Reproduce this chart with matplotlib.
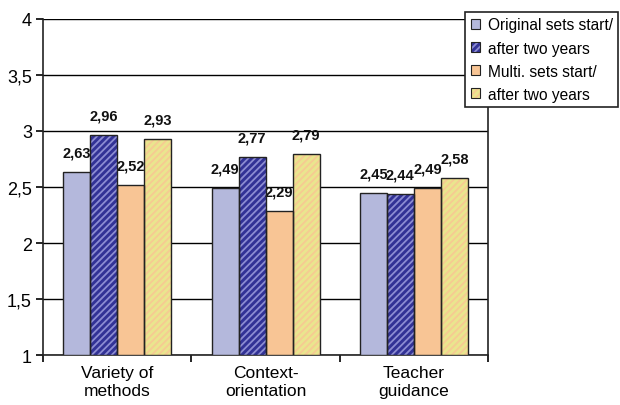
import numpy as np
import matplotlib
matplotlib.use('Agg')
import matplotlib.pyplot as plt
from matplotlib.patches import Patch

plt.rcParams['font.family'] = ['Liberation Sans', 'DejaVu Sans']
plt.rcParams['hatch.linewidth'] = 1.3

categories = ['Variety of\nmethods', 'Context-\norientation', 'Teacher\nguidance']
series_names = ['Original sets start/', 'after two years',
                'Multi. sets start/', 'after two years']
orig_start = [2.63, 2.49, 2.45]
orig_after = [2.96, 2.77, 2.44]
multi_start = [2.52, 2.29, 2.49]
multi_after = [2.93, 2.79, 2.58]

series = [orig_start, orig_after, multi_start, multi_after]
faces = ['#B4B8DC', '#323296', '#F8C595', '#EAE58E']
stripes = [None, '#8C8CD2', None, '#F6CB92']

fig = plt.figure(figsize=(6.2, 4.06), dpi=100)
ax = fig.add_axes([0.0694, 0.123, 0.7177, 0.828])

x = np.arange(len(categories))
w = 0.182
handles = []
for i, vals in enumerate(series):
    pos = x + (i - 1.5) * w
    if stripes[i]:
        ax.bar(pos, [v - 1 for v in vals], w, bottom=1, color=faces[i],
               edgecolor=stripes[i], linewidth=0, hatch='/////', zorder=3)
        hp = Patch(facecolor=faces[i], edgecolor=stripes[i], linewidth=0, hatch='/////')
    else:
        ax.bar(pos, [v - 1 for v in vals], w, bottom=1, color=faces[i],
               linewidth=0, zorder=3)
        hp = Patch(facecolor=faces[i], linewidth=0)
    ax.bar(pos, [v - 1 for v in vals], w, bottom=1, facecolor='none',
           edgecolor='#222222', linewidth=1.0, zorder=4)
    handles.append((hp, Patch(facecolor='none', edgecolor='#222222', linewidth=0.8)))
    for px, v in zip(pos, vals):
        ax.annotate(f'{v:.2f}'.replace('.', ','), (px, v), xytext=(0, 9),
                    textcoords='offset points', ha='center', va='bottom',
                    fontsize=10.5, fontweight='bold', color='#111111')

ax.set_xlim(-0.5, 2.5)
ax.set_ylim(1, 4)
yt = [1, 1.5, 2, 2.5, 3, 3.5, 4]
ax.set_yticks(yt)
ax.set_yticklabels([f'{t:g}'.replace('.', ',') for t in yt], fontsize=13)
ax.yaxis.grid(True, color='black', linewidth=1.0, zorder=0)
ax.set_axisbelow(True)

ax.set_xticks([-0.5, 0.5, 1.5, 2.5])
ax.set_xticklabels([])
ax.set_xticks(x, minor=True)
ax.set_xticklabels(categories, minor=True, fontsize=12.5, linespacing=1.3)
ax.tick_params(axis='x', which='minor', length=0, pad=7)
ax.tick_params(axis='x', which='major', length=5, width=1.2, direction='out')
ax.tick_params(axis='y', length=5, width=1.2, direction='out', pad=3)

for s in ax.spines.values():
    s.set_linewidth(1.2)
    s.set_color('#222222')
ax.spines['top'].set_visible(False)

leg = fig.legend(handles, series_names, loc='upper right',
                 bbox_to_anchor=(0.997, 0.968), bbox_transform=fig.transFigure,
                 fontsize=11.2, frameon=True, fancybox=False, framealpha=1,
                 handlelength=0.6, handleheight=0.6, handletextpad=0.5,
                 borderpad=0.35, labelspacing=0.52, borderaxespad=0)
leg.get_frame().set_edgecolor('#222222')
leg.get_frame().set_linewidth(1.2)

fig.savefig('out.png', dpi=100)
